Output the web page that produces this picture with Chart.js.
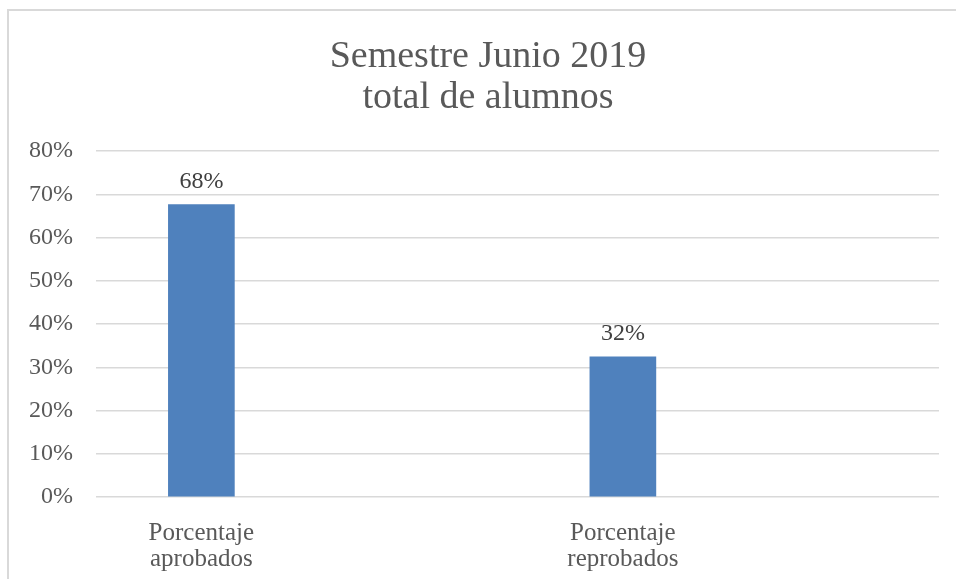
<!DOCTYPE html>
<html>
<head>
<meta charset="utf-8">
<script src="https://cdn.jsdelivr.net/npm/chart.js@4/dist/chart.umd.min.js"></script>
<style>
  html, body { margin: 0; padding: 0; background: #fff; overflow: hidden; }
  #frame {
    position: absolute; left: 7px; top: 9px; width: 1000px; height: 700px;
    border-left: 2px solid #d9d9d9; border-top: 2px solid #d9d9d9;
  }
  #wrap { position: absolute; left: 0; top: 0; width: 956px; height: 579px; }
</style>
</head>
<body>
<div id="frame"></div>
<div id="wrap"><canvas id="chart" width="956" height="579"></canvas></div>
<script>
// Data (the sheet had two blank columns)
const categories = [["Porcentaje", "aprobados"], "", ["Porcentaje", "reprobados"], ""];
const values = [0.676, null, 0.324, null];
const titleLines = ["Semestre Junio 2019", "total de alumnos"];
const yTicks = [0, 0.1, 0.2, 0.3, 0.4, 0.5, 0.6, 0.7, 0.8];

const FONT = "'Liberation Serif', 'DejaVu Serif', serif";

// Percent labels above each bar
const barLabels = {
  id: "barLabels",
  afterDatasetsDraw(chart) {
    const ctx = chart.ctx;
    const meta = chart.getDatasetMeta(0);
    ctx.save();
    ctx.font = "24px " + FONT;
    ctx.fillStyle = "#404040";
    ctx.textAlign = "center";
    ctx.textBaseline = "alphabetic";
    meta.data.forEach((bar, i) => {
      const v = values[i];
      if (v == null) return;
      ctx.fillText(Math.round(v * 100) + "%", bar.x, bar.y - 17);
    });
    ctx.restore();
  },
};

// Two-line title, centred on the original (wider) chart frame
const titleText = {
  id: "titleText",
  afterDraw(chart) {
    const ctx = chart.ctx;
    ctx.save();
    ctx.font = "38px " + FONT;
    ctx.fillStyle = "#595959";
    ctx.textAlign = "center";
    ctx.textBaseline = "alphabetic";
    ctx.fillText(titleLines[0], 488, 67);
    ctx.fillText(titleLines[1], 488, 108);
    ctx.restore();
  },
};

new Chart(document.getElementById("chart"), {
  type: "bar",
  data: {
    labels: categories,
    datasets: [
      {
        data: values,
        backgroundColor: "#4f81bd",
        barThickness: 66,
      },
    ],
  },
  plugins: [barLabels, titleText],
  options: {
    responsive: false,
    animation: false,
    layout: { padding: { left: 0, right: 17, top: 151, bottom: 0 } },
    plugins: {
      legend: { display: false },
      tooltip: { enabled: false },
      title: { display: false },
    },
    scales: {
      x: {
        grid: { display: false },
        border: { display: false },
        ticks: {
          color: "#595959",
          font: { family: FONT, size: 25, lineHeight: 1.04 },
          padding: 15,
          maxRotation: 0,
          autoSkip: false,
        },
        afterFit(scale) { scale.height = 82; },
      },
      y: {
        min: 0,
        max: 0.8,
        grid: { color: "#d9d9d9", lineWidth: 1.5, drawTicks: false },
        border: { display: false },
        afterBuildTicks(scale) { scale.ticks = yTicks.map((v) => ({ value: v })); },
        ticks: {
          color: "#595959",
          font: { family: FONT, size: 24 },
          padding: 23,
          callback: (v) => Math.round(v * 100) + "%",
        },
        afterFit(scale) { scale.width = 96; },
      },
    },
  },
});
</script>
</body>
</html>
